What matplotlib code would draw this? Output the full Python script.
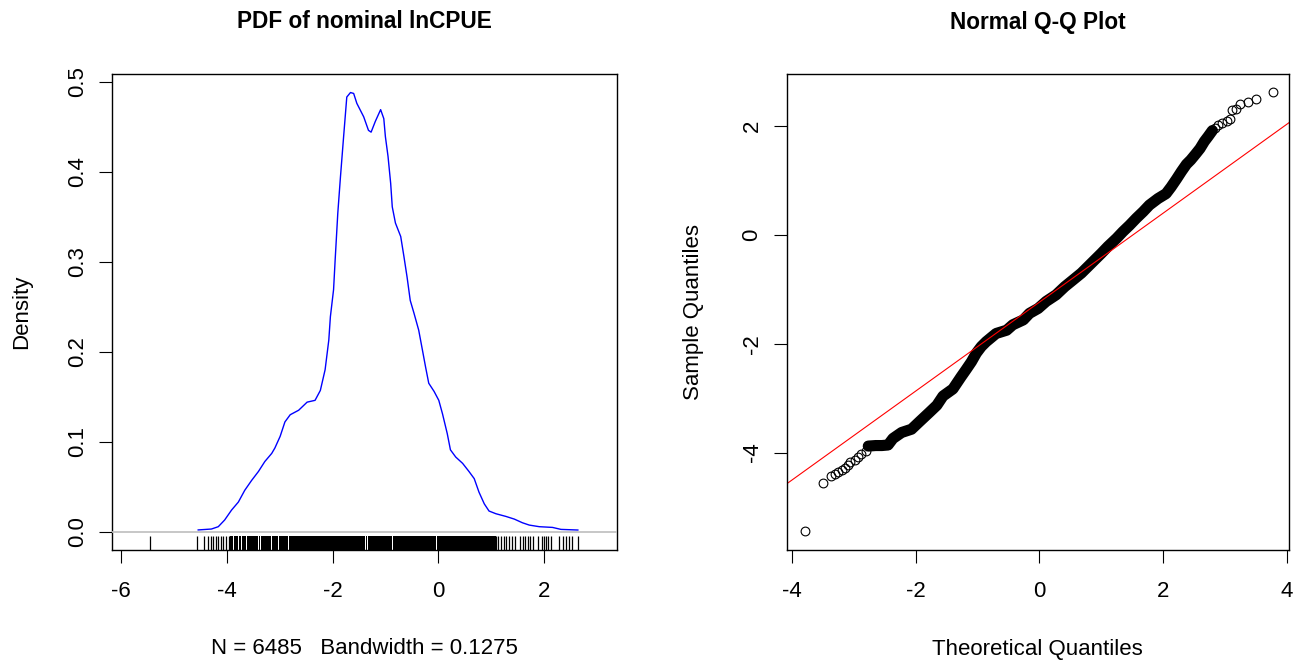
import numpy as np
import matplotlib
matplotlib.use("Agg")
import matplotlib.pyplot as plt

plt.rcParams['font.family'] = ['Liberation Sans', 'DejaVu Sans']

# density curve of lnCPUE
dens_x = [-4.54, -4.29, -4.16, -4.04, -3.91, -3.78, -3.66, -3.53, -3.40, -3.28,
          -3.15, -3.09, -2.99, -2.90, -2.80, -2.64, -2.48, -2.33, -2.23, -2.14,
          -2.07, -2.04, -1.98, -1.95, -1.90, -1.85, -1.79, -1.73, -1.66, -1.60,
          -1.54, -1.41, -1.32, -1.27, -1.19, -1.09, -1.03, -1.00, -0.95, -0.90,
          -0.87, -0.81, -0.71, -0.65, -0.59, -0.53, -0.46, -0.37, -0.30, -0.24,
          -0.18, -0.08, 0.01, 0.08, 0.17, 0.23, 0.33, 0.46, 0.58, 0.68,
          0.77, 0.87, 0.96, 1.09, 1.28, 1.44, 1.59, 1.72, 1.91, 2.16,
          2.32, 2.64]
dens_y = [0.002, 0.003, 0.0056, 0.013, 0.024, 0.033, 0.046, 0.057, 0.067, 0.078,
          0.087, 0.093, 0.106, 0.122, 0.130, 0.135, 0.144, 0.146, 0.157, 0.180,
          0.213, 0.239, 0.269, 0.302, 0.354, 0.394, 0.439, 0.483, 0.488, 0.487,
          0.476, 0.461, 0.446, 0.444, 0.456, 0.469, 0.459, 0.439, 0.417, 0.387,
          0.361, 0.343, 0.328, 0.306, 0.283, 0.257, 0.243, 0.224, 0.202, 0.183,
          0.165, 0.156, 0.146, 0.131, 0.109, 0.091, 0.083, 0.076, 0.067, 0.059,
          0.044, 0.031, 0.023, 0.020, 0.017, 0.014, 0.010, 0.0074, 0.0056, 0.0048,
          0.0026, 0.0019]

# rug: single ticks and solid (overlapping) stretches
rug_x = [-5.446, -4.554, -4.427, -4.351, -4.307, -4.256, -4.212, -4.161, -4.118,
         -4.080, -4.016, -3.953,
         1.089, 1.139, 1.184, 1.234, 1.279, 1.329, 1.392, 1.455, 1.544, 1.594,
         1.639, 1.689, 1.734, 1.784, 1.879, 1.962, 2.006, 2.038, 2.082, 2.133,
         2.277, 2.366, 2.417, 2.467, 2.524, 2.651]
rug_spans = [(-3.94, -3.875), (-3.855, -3.79), (-3.775, -3.73), (-3.715, -3.63),
             (-3.615, -3.51), (-3.495, -3.41), (-3.395, -3.37), (-3.355, -3.16),
             (-3.145, -3.03), (-3.015, -2.84), (-2.825, -2.51), (-2.495, -1.79),
             (-1.775, -1.39), (-1.375, -1.34), (-1.325, -0.88), (-0.865, -0.04),
             (-0.025, 1.09)]

# normal Q-Q: dense band and separate points
qq_band_t = [-2.77, -2.65, -2.55, -2.45, -2.37, -2.23, -2.07, -1.94, -1.78, -1.66,
             -1.56, -1.40, -1.27, -1.19, -1.10, -1.02, -0.94, -0.86, -0.70, -0.53,
             -0.43, -0.26, -0.16, -0.02, 0.11, 0.27, 0.41, 0.54, 0.68, 0.84,
             1.00, 1.11, 1.25, 1.35, 1.46, 1.57, 1.68, 1.78, 1.92, 2.05,
             2.13, 2.22, 2.30, 2.38, 2.45, 2.53, 2.60, 2.67, 2.73, 2.80]
qq_band_s = [-3.88, -3.87, -3.87, -3.86, -3.74, -3.63, -3.57, -3.43, -3.26, -3.13,
             -2.96, -2.83, -2.61, -2.48, -2.33, -2.17, -2.05, -1.96, -1.81, -1.75,
             -1.65, -1.56, -1.44, -1.35, -1.22, -1.10, -0.95, -0.83, -0.70, -0.52,
             -0.34, -0.21, -0.06, 0.06, 0.18, 0.31, 0.43, 0.55, 0.67, 0.76,
             0.88, 1.03, 1.17, 1.30, 1.38, 1.49, 1.59, 1.72, 1.81, 1.92]
qq_pts_t = [-3.80, -3.51, -3.38, -3.31, -3.26, -3.20, -3.15, -3.10, -3.06, -2.99,
            -2.94, -2.88, -2.81,
            2.84, 2.89, 2.95, 3.03, 3.09, 3.11, 3.18, 3.25, 3.37, 3.50, 3.78]
qq_pts_s = [-5.44, -4.55, -4.43, -4.39, -4.35, -4.32, -4.28, -4.23, -4.17, -4.13,
            -4.08, -4.03, -3.97,
            1.96, 2.02, 2.06, 2.10, 2.13, 2.29, 2.31, 2.41, 2.44, 2.50, 2.62]
qq_line = (-1.234, 0.8165)  # intercept, slope

W, H = 1299, 666
fig = plt.figure(figsize=(W / 100, H / 100), dpi=100)


def box(x0, y0, x1, y1):
    # pixel box (top-left origin) -> figure fraction
    return [x0 / W, 1 - y1 / H, (x1 - x0) / W, (y1 - y0) / H]


def style(ax):
    for s in ax.spines.values():
        s.set_linewidth(1.0)
        s.set_color('black')
    ax.tick_params(direction='out', length=9.4, width=0.8, labelsize=16,
                   colors='black')
    ax.tick_params(axis='x', pad=13)
    ax.tick_params(axis='y', pad=8)


ax1 = fig.add_axes(box(112, 74, 617, 550))
ax1.plot(dens_x, dens_y, color='#0000FF', lw=1.0)
ax1.axhline(0, color='#BEBEBE', lw=1.2, zorder=3)
ax1.vlines(rug_x, 0, 0.03, transform=ax1.get_xaxis_transform(), color='black', lw=0.9)
for a, b in rug_spans:
    ax1.axvspan(a, b, ymin=0, ymax=0.03, color='black', lw=0)
ax1.set_xlim(-6.17, 3.38)
ax1.set_ylim(-0.0203, 0.5086)
ax1.set_xticks([-6, -4, -2, 0, 2])
ax1.set_xticklabels(['-6', '-4', '-2', '0', '2'])
ax1.set_yticks([0, 0.1, 0.2, 0.3, 0.4, 0.5])
ax1.set_yticklabels(['0.0', '0.1', '0.2', '0.3', '0.4', '0.5'], rotation=90, va='center')
style(ax1)
ax1.set_xlabel('N = 6485   Bandwidth = 0.1275', fontsize=16, va='center')
ax1.xaxis.set_label_coords(0.5, -99 / 476)
ax1.set_ylabel('Density', fontsize=16, va='center')
ax1.yaxis.set_label_coords(-90 / 505, 0.5)
ax1.text(0.5, 1 + (74 - 22) / 476, 'PDF of nominal lnCPUE', transform=ax1.transAxes,
         ha='center', va='center', fontsize=16.3, fontweight='bold')

ax2 = fig.add_axes(box(786.7, 74.3, 1289, 550))
ax2.plot(qq_band_t, qq_band_s, color='black', lw=8, solid_capstyle='round',
         solid_joinstyle='round')
ax2.plot(qq_pts_t, qq_pts_s, 'o', mfc='none', mec='black', ms=6.3, mew=0.8)
ax2.axline((0, qq_line[0]), slope=qq_line[1], color='#FF0000', lw=0.8)
ax2.set_xlim(-4.09, 4.04)
ax2.set_ylim(-5.79, 2.954)
ax2.set_xticks([-4, -2, 0, 2, 4])
ax2.set_xticklabels(['-4', '-2', '0', '2', '4'])
ax2.set_yticks([-4, -2, 0, 2])
ax2.set_yticklabels(['-4', '-2', '0', '2'], rotation=90, va='center')
style(ax2)
ax2.set_xlabel('Theoretical Quantiles', fontsize=16, va='center')
ax2.xaxis.set_label_coords(0.5, -99 / 475.7)
ax2.set_ylabel('Sample Quantiles', fontsize=16, va='center')
ax2.yaxis.set_label_coords(-92.7 / 502.3, 0.5)
ax2.text(0.5, 1 + (74.3 - 22) / 475.7, 'Normal Q-Q Plot', transform=ax2.transAxes,
         ha='center', va='center', fontsize=16.3, fontweight='bold')

fig.savefig('out.png', dpi=100)
